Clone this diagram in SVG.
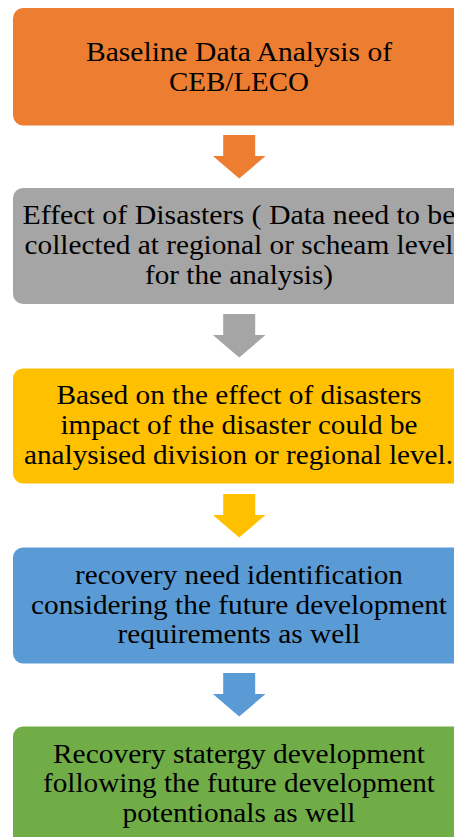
<svg xmlns="http://www.w3.org/2000/svg" width="454" height="837" viewBox="0 0 454 837">
  <style>
    .box { stroke: none; }
    .lbl { font-family: 'Liberation Serif', 'Times New Roman', serif; font-size: 28px; fill: #000; text-anchor: middle; }
  </style>
  <defs>
    <!-- block arrow pointing down, origin at top of shaft, centred on x=0 -->
    <path id="down" d="M -16 0 H 16 V 21 H 26.3 L 0 43.5 L -26.3 21 H -16 Z"/>
  </defs>
  <rect width="454" height="837" fill="#fff"/>

  <g id="connectors">
    <use href="#down" x="239.2" y="135" fill="#ED7D31"/>
    <use href="#down" x="239.2" y="314" fill="#A5A5A5"/>
    <use href="#down" x="239.2" y="494" fill="#FFC000"/>
    <use href="#down" x="239.2" y="673" fill="#5B9BD5"/>
  </g>

  <g id="node-baseline">
    <rect class="box" x="13" y="8" width="452" height="117.5" rx="10" fill="#ED7D31"/>
    <text class="lbl" x="239" y="60.7" textLength="306" lengthAdjust="spacingAndGlyphs">Baseline Data Analysis of</text>
    <text class="lbl" x="239" y="90.5" textLength="140" lengthAdjust="spacingAndGlyphs">CEB/LECO</text>
  </g>

  <g id="node-effect">
    <rect class="box" x="13" y="188" width="452" height="116" rx="10" fill="#A5A5A5"/>
    <text class="lbl" x="239" y="224.3" textLength="433" lengthAdjust="spacingAndGlyphs">Effect of Disasters ( Data need to be</text>
    <text class="lbl" x="239" y="254" textLength="429" lengthAdjust="spacingAndGlyphs">collected at regional or scheam level</text>
    <text class="lbl" x="239" y="284" textLength="188" lengthAdjust="spacingAndGlyphs">for the analysis)</text>
  </g>

  <g id="node-impact">
    <rect class="box" x="13" y="368.5" width="452" height="115" rx="10" fill="#FFC000"/>
    <text class="lbl" x="239" y="404" textLength="365" lengthAdjust="spacingAndGlyphs">Based on the effect of disasters</text>
    <text class="lbl" x="239" y="434" textLength="357" lengthAdjust="spacingAndGlyphs">impact of the disaster could be</text>
    <text class="lbl" x="238.5" y="464" textLength="429" lengthAdjust="spacingAndGlyphs">analysised division or regional level.</text>
  </g>

  <g id="node-recovery-need">
    <rect class="box" x="13" y="547.5" width="452" height="116" rx="10" fill="#5B9BD5"/>
    <text class="lbl" x="239" y="584" textLength="328" lengthAdjust="spacingAndGlyphs">recovery need identification</text>
    <text class="lbl" x="239" y="613.5" textLength="416" lengthAdjust="spacingAndGlyphs">considering the future development</text>
    <text class="lbl" x="239" y="643" textLength="243" lengthAdjust="spacingAndGlyphs">requirements as well</text>
  </g>

  <g id="node-strategy">
    <rect class="box" x="13" y="726.5" width="452" height="121" rx="10" fill="#70AD47"/>
    <text class="lbl" x="239" y="762.5" textLength="372" lengthAdjust="spacingAndGlyphs">Recovery statergy development</text>
    <text class="lbl" x="239" y="792" textLength="392" lengthAdjust="spacingAndGlyphs">following the future development</text>
    <text class="lbl" x="239" y="821.5" textLength="233" lengthAdjust="spacingAndGlyphs">potentionals as well</text>
  </g>
</svg>
